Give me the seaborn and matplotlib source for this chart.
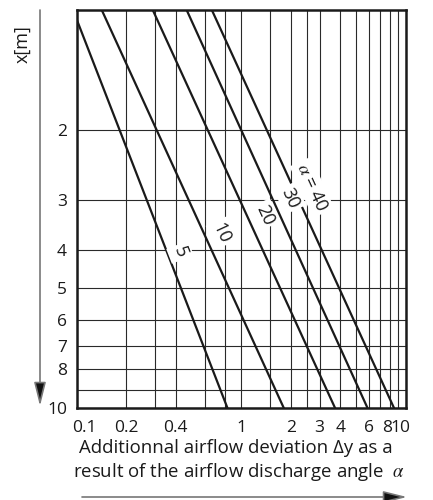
import numpy as np
import pandas as pd
import seaborn as sns
import matplotlib.pyplot as plt
import matplotlib.transforms as mtransforms
from matplotlib.ticker import NullFormatter

# Lines: airflow deviation dy read at depth x = 1 m and x = 10 m
alphas = [5, 10, 20, 30, 40]
alpha_labels = ["5", "10", "20", "30", r"$\alpha$ = 40"]
depths = [1, 10]
dy_at_1 = [0.095, 0.142, 0.29, 0.466, 0.663]
dy_at_10 = [0.825, 1.815, 3.72, 5.86, 8.49]

# Where each curve label sits (depth) and how far right of its line (px)
label_depth = [4.06, 3.63, 3.27, 2.97, 2.79]
label_offset = [13, 18, 18, 18, 19]

x_major = [0.1, 0.2, 0.4, 1, 2, 3, 4, 6, 8, 10]
x_major_labels = ["0.1", "0.2", "0.4", "1", "2", "3", "4", "6", "8", "10"]
x_minor = [0.3, 0.6, 0.8, 1.5, 2.5, 5, 7, 9]
y_major = [2, 3, 4, 5, 6, 7, 8, 10]
y_major_labels = ["2", "3", "4", "5", "6", "7", "8", "10"]
y_minor = [9]

sns.set_theme(style="white")
plt.rcParams["font.family"] = ["Open Sans", "DejaVu Sans"]
plt.rcParams["mathtext.fontset"] = "stix"

rows = []
for a, d1, d10 in zip(alphas, dy_at_1, dy_at_10):
    rows.append({"alpha": a, "x": depths[0], "dy": d1})
    rows.append({"alpha": a, "x": depths[1], "dy": d10})
df = pd.DataFrame(rows)

W, H = 433, 500
fig = plt.figure(figsize=(W / 100, H / 100), dpi=100)
ax = fig.add_axes([76.7 / W, 1 - 408 / H, (405.7 - 76.7) / W, (408 - 10) / H])

ax.set_xscale("log")
ax.set_yscale("log")
ax.set_xlim(0.1, 10)
ax.set_ylim(10, 1)

sns.lineplot(data=df, x="dy", y="x", hue="alpha", palette=["#1a1a1a"] * len(alphas),
             estimator=None, sort=False, linewidth=1.6, legend=False, ax=ax, zorder=3)

ax.set_xticks(x_major, labels=x_major_labels)
ax.set_xticks(x_minor, minor=True)
ax.set_yticks(y_major, labels=y_major_labels)
ax.set_yticks(y_minor, minor=True)
ax.xaxis.set_minor_formatter(NullFormatter())
ax.yaxis.set_minor_formatter(NullFormatter())
ax.tick_params(which="both", length=0, labelsize=12.5, colors="#1a1a1a")
ax.tick_params(axis="x", pad=9)
ax.tick_params(axis="y", pad=7)
ax.grid(True, which="both", color="#2a2a2a", linewidth=0.8)
ax.set_axisbelow(True)
for s in ax.spines.values():
    s.set_visible(True)
    s.set_color("#1a1a1a")
    s.set_linewidth(1.8)
ax.set_xlabel("")
ax.set_ylabel("")

# nudge a few x labels (px) so the crowded right end stays readable
nudges = {0: 8, 8: -3, 9: -5}
xlabs = ax.get_xticklabels()
for k, dx in nudges.items():
    xlabs[k].set_transform(xlabs[k].get_transform()
                           + mtransforms.ScaledTranslation(dx / 100, 0, fig.dpi_scale_trans))

# Curve labels, rotated along the lines
for i, a in enumerate(alphas):
    slope = np.log10(dy_at_10[i] / dy_at_1[i])
    xd = label_depth[i]
    dyv = dy_at_1[i] * xd ** slope
    p0 = ax.transData.transform((dyv, xd))
    p1 = ax.transData.transform((dyv * 2 ** slope, xd * 2))
    ang = np.degrees(np.arctan2(p1[1] - p0[1], p1[0] - p0[0]))
    ax.annotate(alpha_labels[i], xy=(dyv, xd), xytext=(label_offset[i], 0),
                textcoords="offset pixels", rotation=ang, rotation_mode="anchor",
                ha="center", va="center", fontsize=13, color="#1a1a1a", zorder=5,
                bbox=dict(boxstyle="square,pad=0.15", fc="white", ec="none"))

fig.text(22 / W, 1 - 44 / H, "x[m]", rotation=90, ha="center", va="center",
         fontsize=13, color="#1a1a1a")
fig.text(236 / W, 1 - 448 / H, "Additionnal airflow deviation Δy as a",
         ha="center", va="center", fontsize=13.4, color="#1a1a1a")
fig.text(239 / W, 1 - 472 / H, r"result of the airflow discharge angle  $\alpha$",
         ha="center", va="center", fontsize=13.4, color="#1a1a1a")

# Axis direction arrows
arrow = dict(arrowstyle="-|>,head_length=1.2,head_width=0.3", edgecolor="#777777",
             facecolor="#111111", lw=1.2, shrinkA=0, shrinkB=0)
fig.add_artist(plt.Annotation("", xy=(40, H - 406), xytext=(40, H - 10),
                              xycoords="figure pixels", textcoords="figure pixels",
                              arrowprops=arrow))
fig.add_artist(plt.Annotation("", xy=(407, 3), xytext=(82, 3),
                              xycoords="figure pixels", textcoords="figure pixels",
                              arrowprops=arrow))

fig.savefig("out.png", dpi=100)
